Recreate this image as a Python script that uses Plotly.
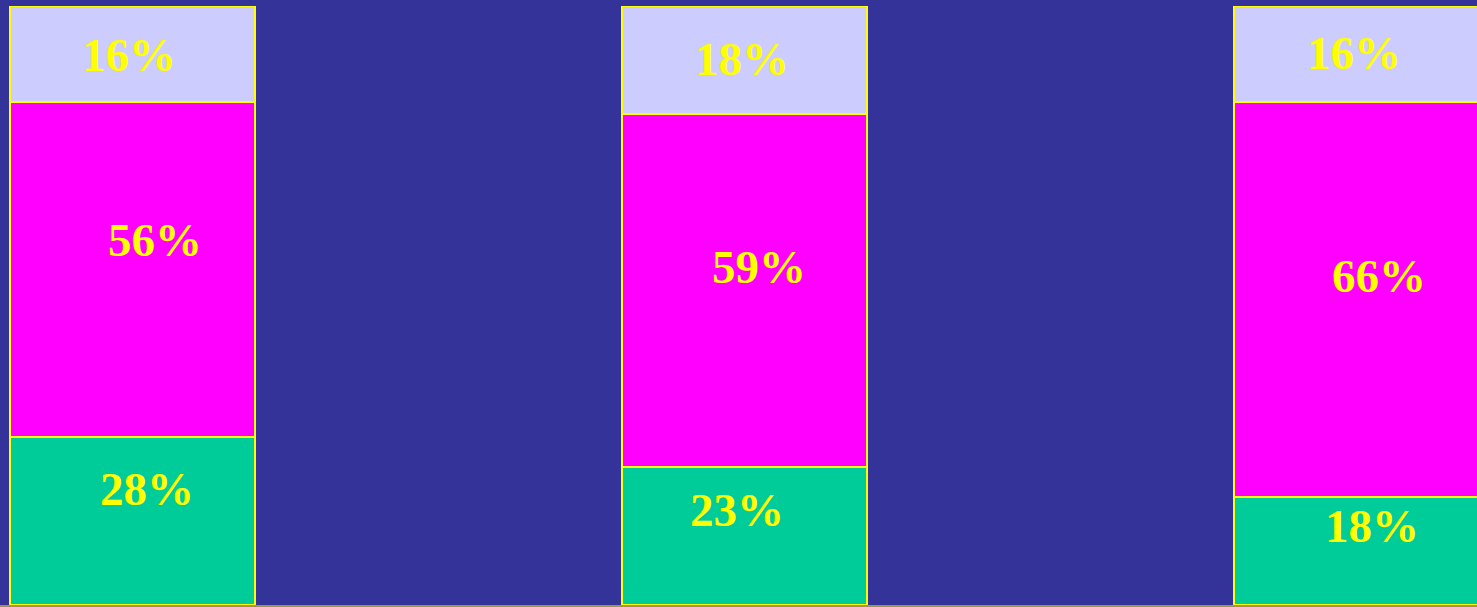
import plotly.graph_objects as go

categories = ["Group 1", "Group 2", "Group 3"]
series_names = ["Bottom", "Middle", "Top"]
bottom_vals = [28, 23, 18]
middle_vals = [56, 59, 66]
top_vals = [16, 18, 16]

colors = ["#00CC99", "#FF00FF", "#CCCCFF"]
# label pixel nudges (style only)
label_xshift = [[15, -7, 16], [23, 15, 23], [-3, -2, -2]]
label_yshift = [[32, 26, 25], [30, 24, 24], [-1, 1, 1]]

series = [bottom_vals, middle_vals, top_vals]

fig = go.Figure()
for name, vals, col in zip(series_names, series, colors):
    fig.add_trace(go.Bar(
        x=categories, y=vals, name=name,
        marker=dict(color=col, line=dict(color="#FFFF00", width=2)),
        width=0.4, hoverinfo="skip",
    ))

cum = [0, 0, 0]
for si, vals in enumerate(series):
    for ci, v in enumerate(vals):
        mid = cum[ci] + v / 2
        fig.add_annotation(
            x=categories[ci], y=mid, text=f"{v}%", showarrow=False,
            xshift=label_xshift[si][ci], yshift=label_yshift[si][ci],
            font=dict(family="Liberation Serif", size=47, color="#FFFF00", weight="bold"),
        )
        cum[ci] += v

fig.update_layout(
    barmode="stack",
    width=1477, height=607,
    margin=dict(l=0, r=0, t=6, b=0),
    paper_bgcolor="#333399", plot_bgcolor="#333399",
    showlegend=False,
    xaxis=dict(range=[-0.2162, 2.1972], showticklabels=False, showgrid=False,
               zeroline=False, showline=True, linecolor="#999944", linewidth=2,
               ticks="outside", tickson="boundaries", tickcolor="#FFFF00", ticklen=2),
    yaxis=dict(range=[0, 100], showticklabels=False, showgrid=False, zeroline=False,
               showline=False),
)
fig.write_html("out.html", config={"displayModeBar": False},
               post_script="document.body.style.margin='0';document.body.style.overflow='hidden';document.body.style.background='#333399';")
